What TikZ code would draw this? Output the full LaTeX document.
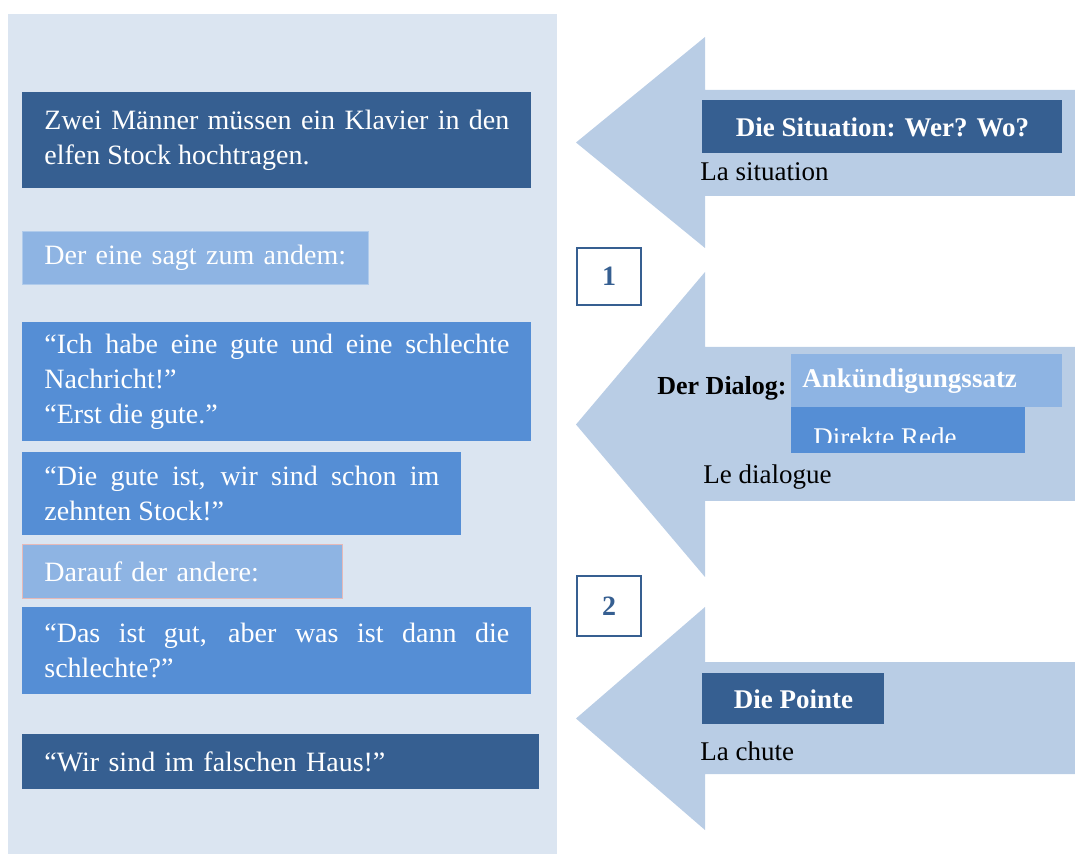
\documentclass[tikz,border=0pt]{standalone}
\usepackage{fontspec}
\setmainfont{Liberation Serif}
\definecolor{darkblue}{HTML}{365F91}
\definecolor{midblue}{HTML}{558ED5}
\definecolor{lightblue}{HTML}{8EB4E3}
\definecolor{arrowblue}{HTML}{B9CDE5}
\definecolor{panelblue}{HTML}{DBE5F1}
\definecolor{pinkline}{HTML}{E6B9B8}

\begin{document}
\begin{tikzpicture}[x=0.5pt,y=-0.5pt,
    txtbox/.style={anchor=north west,inner xsep=11pt,inner ysep=0pt,text=white,
      font=\fontsize{14}{17.5}\selectfont},
    titlebox/.style={anchor=north west,inner sep=0pt,text=white,
      font=\fontsize{13.5}{15}\selectfont\bfseries},
    note/.style={anchor=west,inner sep=0pt,font=\fontsize{13.5}{15}\selectfont},
    numbox/.style={draw=darkblue,line width=0.9pt,fill=white,minimum width=32pt,
      inner sep=0pt,text=darkblue,font=\fontsize{14}{15}\selectfont\bfseries}]
  \useasboundingbox (0,0) rectangle (1075,854);
  % left column: the joke
  \fill[panelblue] (8,14) rectangle (557,854);
  \node[txtbox,fill=darkblue,text width=232.5pt,minimum height=48pt,align=justify] (intro) at (22,92)
    {Zwei Männer müssen ein Klavier in den\linebreak elfen Stock hochtragen.};
  \node[txtbox,fill=lightblue,draw=lightblue!70!white,text width=151pt,minimum height=26.5pt,align=left] (ansage1) at (22,231)
    {\mbox{Der eine sagt zum andem:}};
  \node[txtbox,fill=midblue,text width=232.5pt,minimum height=59.5pt,align=justify] (rede1) at (22,322)
    {“Ich habe eine gute und eine schlechte\linebreak Nachricht!”\\“Erst die gute.”};
  \node[txtbox,fill=midblue,text width=197.5pt,minimum height=41.5pt,align=justify] (rede2) at (22,452)
    {“Die gute ist, wir sind schon im\linebreak zehnten Stock!”};
  \node[txtbox,fill=lightblue,draw=pinkline,text width=138pt,minimum height=27pt,align=left] (ansage2) at (22,544)
    {\mbox{Darauf der andere:}};
  \node[txtbox,fill=midblue,text width=232.5pt,minimum height=43.5pt,align=justify] (rede3) at (22,607)
    {“Das ist gut, aber was ist dann die\linebreak schlechte?”};
  \node[txtbox,fill=darkblue,text width=236.5pt,minimum height=27.5pt,align=left] (pointe) at (22,734)
    {\mbox{“Wir sind im falschen Haus!”}};

  % right column: arrows
  \foreach \st/\sb/\ht/\hb in {90/196/37/248, 347/501/272/577, 662/774/607/830}
    \fill[arrowblue] (1075,\st) -- (705,\st) -- (705,\ht) -- (576,{(\ht+\hb)/2})
      -- (705,\hb) -- (705,\sb) -- (1075,\sb) -- cycle;

  \node[titlebox,fill=darkblue,minimum width=180pt,minimum height=26.5pt] (situation) at (702,100)
    {Die Situation: Wer? Wo?};
  \node[note] (lasit) at (700,172) {La situation};

  \node[titlebox,fill=lightblue,text width=124.5pt,inner xsep=5.5pt,minimum height=26.5pt,align=left] (ankuend) at (791,354)
    {Ankündigungssatz};
  \node[titlebox,fill=midblue,minimum width=117pt,minimum height=23pt] (direkt) at (791,407) {};
  \begin{scope}
    \clip (791,407) rectangle (1025,443);
    \node[anchor=base west,inner sep=0pt,text=white,font=\fontsize{13.5}{15}\selectfont] (direkttxt) at (813,447)
      {Direkte Rede};
  \end{scope}
  \node[anchor=base east,inner sep=0pt,font=\fontsize{13}{15}\selectfont\bfseries] (dialog) at (787,395)
    {Der Dialog:};
  \node[note] (ledia) at (703,477) {Le dialogue};

  \node[titlebox,fill=darkblue,minimum width=91pt,minimum height=25.5pt] (diepointe) at (702,673)
    {Die Pointe};
  \node[note] (lachute) at (700,751) {La chute};

  \node[numbox,minimum height=28.5pt] (eins) at (609,276.5) {1};
  \node[numbox,minimum height=30pt] (zwei) at (609,606) {2};
\end{tikzpicture}
\end{document}
